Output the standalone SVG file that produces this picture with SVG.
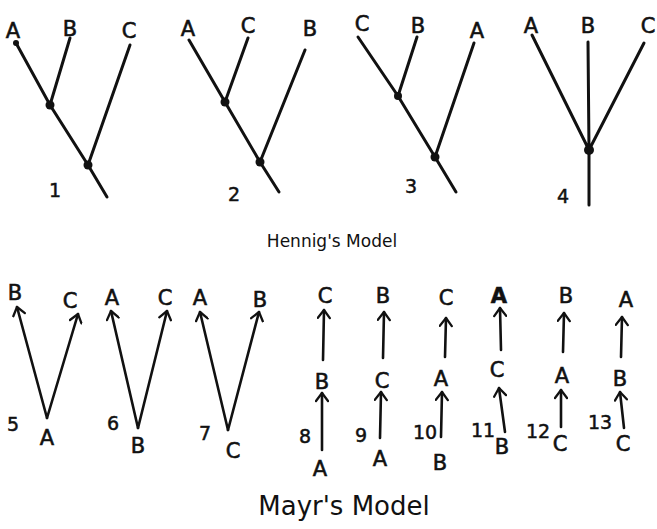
<svg xmlns="http://www.w3.org/2000/svg" width="657" height="529" viewBox="0 0 657 529">
<style>
.l{font-family:"DejaVu Sans","Liberation Sans",sans-serif;font-size:21px;fill:#111;text-anchor:middle;stroke:#111;stroke-width:0.6}
.n{font-family:"DejaVu Sans","Liberation Sans",sans-serif;font-size:19px;fill:#111;text-anchor:middle;stroke:#111;stroke-width:0.5}
.t{font-family:"DejaVu Sans","Liberation Sans",sans-serif;font-size:17px;fill:#111;text-anchor:middle}
.t2{font-family:"DejaVu Sans","Liberation Sans",sans-serif;font-size:26px;fill:#111;text-anchor:middle}
.e{stroke:#111;stroke-width:3;fill:none;stroke-linecap:round}
.a{stroke:#111;stroke-width:2.6;fill:none;stroke-linecap:round;marker-end:url(#h)}
.d{fill:#111}
</style>
<defs>
<marker id="h" viewBox="0 0 14 14" refX="12" refY="7" markerWidth="14" markerHeight="14" markerUnits="userSpaceOnUse" orient="auto">
<path d="M4,1 L12,7 L4,13" fill="none" stroke="#111" stroke-width="2.3" stroke-linecap="round" stroke-linejoin="round"/>
</marker>
</defs>
<rect width="657" height="529" fill="#fff"/>
<g id="connectors">
<path class="e" d="M16,43 L50,105 L88,165 L107,197 M70,38 L50,105 M130,45 L88,165"/>
<path class="e" d="M189,40 L225,102 L260,162 L279,192 M248,38 L225,102 M305,50 L260,162"/>
<path class="e" d="M358,37 L398,96 L435,157 L456,192 M417,37 L398,96 M474,43 L435,157"/>
<path class="e" d="M532,35 L589,150 M588,42 L589,150 M644,43 L589,150 M589,150 L589,205"/>
<path class="a" d="M47,418 L17,307"/>
<path class="a" d="M47,418 L78,314"/>
<path class="a" d="M138,428 L111,311"/>
<path class="a" d="M138,428 L167,311"/>
<path class="a" d="M228,430 L200,312"/>
<path class="a" d="M228,430 L259,312"/>
<path class="a" d="M323,360 L324,310"/>
<path class="a" d="M322,450 L322,393"/>
<path class="a" d="M383,358 L384,312"/>
<path class="a" d="M380,438 L381,392"/>
<path class="a" d="M445,357 L446,318"/>
<path class="a" d="M441,437 L442,392"/>
<path class="a" d="M501,350 L500,308"/>
<path class="a" d="M505,432 L499,388"/>
<path class="a" d="M563,352 L564,313"/>
<path class="a" d="M561,427 L561,390"/>
<path class="a" d="M621,357 L622,317"/>
<path class="a" d="M624,428 L620,392"/>
</g>
<g id="dots">
<circle class="d" cx="16" cy="43" r="3"/>
<circle class="d" cx="50" cy="105" r="4.5"/>
<circle class="d" cx="88" cy="165" r="4.5"/>
<circle class="d" cx="225" cy="102" r="4.5"/>
<circle class="d" cx="260" cy="162" r="4.5"/>
<circle class="d" cx="398" cy="96" r="4"/>
<circle class="d" cx="435" cy="157" r="4.5"/>
<circle class="d" cx="589" cy="150" r="5"/>
</g>
<g id="tree1"><text class="l" x="13" y="38">A</text><text class="l" x="70" y="36">B</text><text class="l" x="129" y="38">C</text><text class="n" x="55" y="197">1</text></g>
<g id="tree2"><text class="l" x="188" y="36">A</text><text class="l" x="248" y="33">C</text><text class="l" x="310" y="36">B</text><text class="n" x="234" y="201">2</text></g>
<g id="tree3"><text class="l" x="362" y="31">C</text><text class="l" x="418" y="33">B</text><text class="l" x="477" y="38">A</text><text class="n" x="411" y="193">3</text></g>
<g id="tree4"><text class="l" x="531" y="33">A</text><text class="l" x="588" y="33">B</text><text class="l" x="648" y="33">C</text><text class="n" x="563" y="203">4</text></g>
<g id="hennig"><text class="t" x="332" y="247">Hennig's Model</text></g>
<g id="m5"><text class="l" x="15" y="300">B</text><text class="l" x="70" y="308">C</text><text class="l" x="47" y="445">A</text><text class="n" x="13" y="431">5</text></g>
<g id="m6"><text class="l" x="112" y="305">A</text><text class="l" x="165" y="305">C</text><text class="l" x="138" y="453">B</text><text class="n" x="113" y="430">6</text></g>
<g id="m7"><text class="l" x="200" y="305">A</text><text class="l" x="260" y="307">B</text><text class="l" x="233" y="458">C</text><text class="n" x="205" y="440">7</text></g>
<g id="m8"><text class="l" x="325" y="303">C</text><text class="l" x="322" y="389">B</text><text class="l" x="320" y="476">A</text><text class="n" x="305" y="443">8</text></g>
<g id="m9"><text class="l" x="383" y="303">B</text><text class="l" x="382" y="388">C</text><text class="l" x="380" y="466">A</text><text class="n" x="361" y="442">9</text></g>
<g id="m10"><text class="l" x="446" y="305">C</text><text class="l" x="441" y="386">A</text><text class="l" x="440" y="470">B</text><text class="n" x="425" y="439">10</text></g>
<g id="m11"><text class="l" x="499" y="303" font-weight="bold">A</text><text class="l" x="497" y="377">C</text><text class="l" x="502" y="454">B</text><text class="n" x="483" y="437">11</text></g>
<g id="m12"><text class="l" x="566" y="303">B</text><text class="l" x="562" y="383">A</text><text class="l" x="560" y="451">C</text><text class="n" x="538" y="438">12</text></g>
<g id="m13"><text class="l" x="626" y="307">A</text><text class="l" x="620" y="386">B</text><text class="l" x="623" y="451">C</text><text class="n" x="600" y="429">13</text></g>
<g id="mayr"><text class="t2" x="344" y="515">Mayr's Model</text></g>
</svg>
